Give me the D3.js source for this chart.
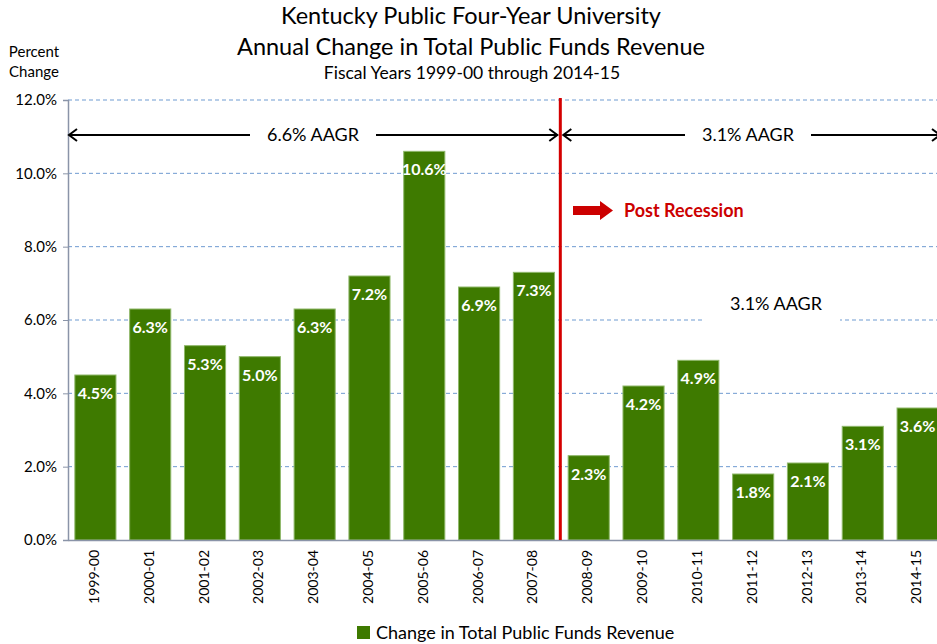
<!DOCTYPE html>
<html><head><meta charset="utf-8">
<script src="https://cdn.jsdelivr.net/npm/d3@7"></script>
<style>body{margin:0;background:#fff}svg{display:block;font-family:Lato,"Open Sans",sans-serif}</style>
</head><body>
<script>
const categories = ["1999-00","2000-01","2001-02","2002-03","2003-04","2004-05","2005-06","2006-07","2007-08","2008-09","2009-10","2010-11","2011-12","2012-13","2013-14","2014-15"];
const values = [4.5,6.3,5.3,5.0,6.3,7.2,10.6,6.9,7.3,2.3,4.2,4.9,1.8,2.1,3.1,3.6];
const yTicks = [0,2,4,6,8,10,12];
const titleLines = ["Kentucky Public Four-Year University","Annual Change in Total Public Funds Revenue"];
const subtitle = "Fiscal Years 1999-00 through 2014-15";
const legendLabel = "Change in Total Public Funds Revenue";
const periods = [{label:"6.6% AAGR", from:0, to:9},{label:"3.1% AAGR", from:9, to:16}];

const W=937,H=644;
const svg=d3.select("body").append("svg").attr("width",W).attr("height",H);
const pL=68, pR=945, pT=100, pB=540;
const x=d3.scaleBand().domain(categories).range([pL,pR]).paddingInner(0.25).paddingOuter(0.125);
const y=d3.scaleLinear().domain([0,12]).range([pB,pT]);

// gridlines
svg.append("g").selectAll("line").data(yTicks.filter(d=>d>0)).join("line")
  .attr("x1",pL).attr("x2",W).attr("y1",d=>y(d)).attr("y2",d=>y(d))
  .attr("stroke","#6f9bd1").attr("stroke-width",1).attr("stroke-dasharray","4,3");

// white box behind the middle "3.1% AAGR" text on 6% gridline
svg.append("rect").attr("x",702).attr("y",y(6)-8).attr("width",138).attr("height",14).attr("fill","#fff");
svg.append("text").attr("x",776).attr("y",y(6)-10).attr("text-anchor","middle")
  .attr("font-size",18).attr("fill","#000").text("3.1% AAGR");

// bars
svg.append("g").selectAll("rect").data(values).join("rect")
  .attr("x",(d,i)=>x(categories[i])).attr("width",x.bandwidth())
  .attr("y",d=>y(d)).attr("height",d=>pB-y(d))
  .attr("fill","#3e7a00").attr("stroke","#8fb86a").attr("stroke-width",1);
svg.append("g").selectAll("text").data(values).join("text")
  .attr("x",(d,i)=>x(categories[i])+x.bandwidth()/2).attr("y",d=>y(d)+24)
  .attr("text-anchor","middle").attr("fill","#fff").attr("font-weight","bold").attr("font-size",16)
  .text(d=>d.toFixed(1)+"%");

// axes
const yAxis=svg.append("g").attr("transform",`translate(${pL},0)`)
  .call(d3.axisLeft(y).tickValues(yTicks).tickSize(5).tickFormat(d=>d.toFixed(1)+"%"));
yAxis.select(".domain").attr("stroke","#8a94a8").attr("stroke-width",1.5);
yAxis.selectAll(".tick line").attr("stroke","#8a94a8");
yAxis.selectAll("text").attr("font-size",15).attr("font-family","Lato,sans-serif").attr("fill","#000").attr("dx",-3);

const xAxis=svg.append("g").attr("transform",`translate(0,${pB})`)
  .call(d3.axisBottom(x).tickSize(0));
xAxis.select(".domain").attr("stroke","#8a94a8").attr("stroke-width",1.5);
xAxis.selectAll("text").attr("font-size",14).attr("font-family","Lato,sans-serif").attr("fill","#000")
  .attr("transform","rotate(-90)").attr("text-anchor","end").attr("dx",-10).attr("dy",0).attr("y",0).attr("x",0)
  .attr("dominant-baseline","middle");

// recession line
const redX=x(categories[9])-x.step()*x.paddingInner()/2-1;
svg.append("line").attr("x1",redX).attr("x2",redX).attr("y1",pT-2).attr("y2",pB)
  .attr("stroke","#d40000").attr("stroke-width",3);

// period arrows
const arrowY=135;
periods.forEach(p=>{
  const x1=p.from===0?pL:redX+2;
  const x2=p.to===16?W+4:redX-2;
  const mid=p.from===0?313:748;
  const gap=p.from===0?63:63;
  const g=svg.append("g").attr("stroke","#000").attr("stroke-width",2).attr("fill","none");
  g.append("line").attr("x1",x1+1).attr("x2",mid-gap).attr("y1",arrowY).attr("y2",arrowY);
  g.append("line").attr("x1",mid+gap).attr("x2",x2-1).attr("y1",arrowY).attr("y2",arrowY);
  g.append("path").attr("d",`M${x1+9},${arrowY-6}L${x1+1},${arrowY}L${x1+9},${arrowY+6}`);
  g.append("path").attr("d",`M${x2-9},${arrowY-6}L${x2-1},${arrowY}L${x2-9},${arrowY+6}`);
  svg.append("text").attr("x",mid).attr("y",arrowY+6).attr("text-anchor","middle")
    .attr("font-size",18).attr("fill","#000").text(p.label);
});

// post recession annotation
svg.append("path").attr("d","M573,206H600V201L613,210.5L600,220V215H573Z").attr("fill","#cc0000");
svg.append("text").attr("x",624).attr("y",217).attr("font-size",18).attr("font-weight","bold")
  .attr("fill","#cc0000").text("Post Recession");

// titles
svg.append("text").attr("x",471).attr("y",24).attr("text-anchor","middle").attr("font-size",23.5).text(titleLines[0]);
svg.append("text").attr("x",471).attr("y",55).attr("text-anchor","middle").attr("font-size",23.5).text(titleLines[1]);
svg.append("text").attr("x",472).attr("y",79).attr("text-anchor","middle").attr("font-size",17.5).text(subtitle);
svg.append("text").attr("x",34).attr("y",57).attr("text-anchor","middle").attr("font-size",15).text("Percent");
svg.append("text").attr("x",34).attr("y",77).attr("text-anchor","middle").attr("font-size",15).text("Change");

// legend
svg.append("rect").attr("x",357).attr("y",626).attr("width",13).attr("height",13).attr("fill","#3e7a00");
svg.append("text").attr("x",376).attr("y",639).attr("font-size",18).text(legendLabel);
</script>
</body></html>
